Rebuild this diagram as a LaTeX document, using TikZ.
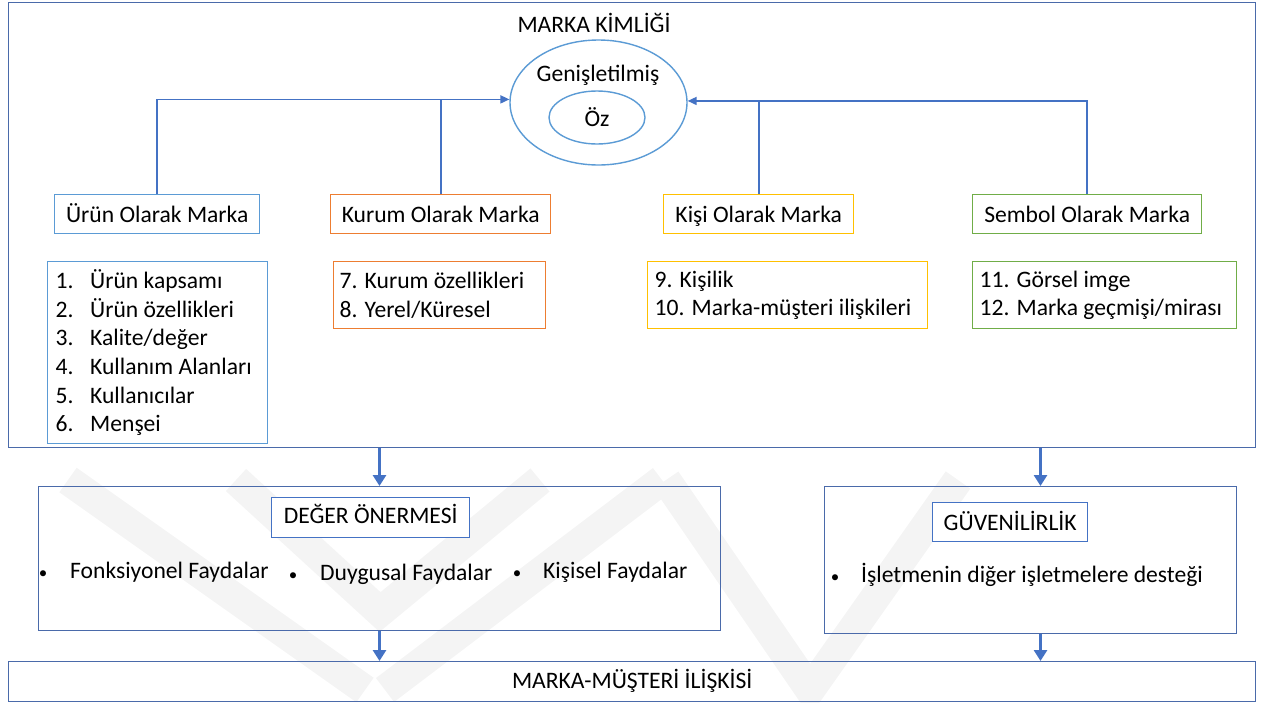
\documentclass[tikz,border=0pt]{standalone}
\usepackage{fontspec}
\setmainfont{Carlito}
\usetikzlibrary{shapes.geometric,arrows.meta}

\definecolor{framecol}{HTML}{4A6AAA}
\definecolor{linkcol}{HTML}{4472C4}
\definecolor{lightblue}{HTML}{5B9BD5}
\definecolor{orangecol}{HTML}{ED7D31}
\definecolor{goldcol}{HTML}{FFC000}
\definecolor{greencol}{HTML}{70AD47}
\definecolor{markcol}{HTML}{F4F4F4}
\newcommand\diagfont{\fontsize{23.6}{28.6}\selectfont}
\newcommand\itemno[1]{\makebox[34.5pt][l]{#1}}

\begin{document}
\begin{tikzpicture}[x=1pt,y=-1pt,
  txt/.style={font=\diagfont, inner sep=0pt},
  dot/.style={font=\fontsize{17}{20}\selectfont, inner sep=0pt, anchor=base},
  panel/.style={draw=#1, line width=1.4pt, anchor=north west, inner sep=0pt, font=\diagfont},
  header/.style={panel=#1, minimum height=39pt, text height=18pt, text depth=2pt},
  listbox/.style={panel=#1, inner xsep=8pt, align=flush left},
  link/.style={draw=linkcol, line width=1.6pt},
  linkarrow/.style={link, -{Triangle[length=9pt,width=8pt]}},
  flow/.style={draw=linkcol, line width=3.6pt, -{Triangle[length=11pt,width=13pt]}},
  band/.style={draw=markcol, line width=30pt, line join=miter}
]
\useasboundingbox (0,0) rectangle (1266,702);

% faint background watermark stripes
\draw[band] (68,480) -- (365,690);
\draw[band] (236,480) -- (380,612) -- (540,480);
\draw[band] (385,690) -- (662,480);
\draw[band] (666,480) -- (810,690) -- (958,480);

% brand identity frame
\node[panel=framecol, fill=white, minimum width=1247pt, minimum height=445pt] (identity) at (8,2) {};
\node[txt, anchor=base] (idtitle) at (594,32) {MARKA KİMLİĞİ};

% extended and core identity
\node[ellipse, draw=lightblue, line width=1.4pt, minimum width=177pt, minimum height=125pt, inner sep=0pt] (ext) at (598.5,102.5) {};
\node[txt, anchor=base] (extlabel) at (598,81) {Genişletilmiş};
\node[ellipse, draw=lightblue, line width=1.4pt, minimum width=96pt, minimum height=53pt, inner sep=0pt, font=\diagfont] (core) at (597,117.5) {Öz};

% four perspectives
\node[header=lightblue, minimum width=205pt] (urun) at (54,194) {Ürün Olarak Marka};
\node[header=orangecol, minimum width=220pt] (kurum) at (330,194) {Kurum Olarak Marka};
\node[header=goldcol, minimum width=190pt] (kisi) at (663,194) {Kişi Olarak Marka};
\node[header=greencol, minimum width=229pt] (sembol) at (972,194) {Sembol Olarak Marka};

% perspective details
\node[listbox=lightblue, text width=204pt, minimum width=220pt, minimum height=182pt] (urunlist) at (47,261)
  {\itemno{1.}Ürün kapsamı\\
   \itemno{2.}Ürün özellikleri\\
   \itemno{3.}Kalite/değer\\
   \itemno{4.}Kullanım Alanları\\
   \itemno{5.}Kullanıcılar\\
   \itemno{6.}Menşei};
\node[listbox=orangecol, inner xsep=6pt, text width=200pt, minimum width=212pt, minimum height=67pt] (kurumlist) at (333,261)
  {\mbox{7. Kurum özellikleri}\\\mbox{8. Yerel/Küresel}};
\node[listbox=goldcol, inner xsep=7pt, text width=266pt, minimum width=280pt, minimum height=67pt] (kisilist) at (647,261)
  {\mbox{9. Kişilik}\\\mbox{10. Marka-müşteri ilişkileri}};
\node[listbox=greencol, inner xsep=7pt, text width=250pt, minimum width=264pt, minimum height=67pt] (sembollist) at (972,261)
  {\mbox{11. Görsel imge}\\\mbox{12. Marka geçmişi/mirası}};

% links into the identity core
\draw[linkarrow] (urun.north) |- (ext.178.4);
\draw[link] (kurum.north) -- (kurum.north |- ext.178.4);
\draw[linkarrow] (sembol.north) |- (ext.1.6);
\draw[link] (kisi.north) -- (kisi.north |- ext.1.6);

% value proposition
\node[panel=framecol, minimum width=682pt, minimum height=144pt] (deger) at (38,486) {};
\node[panel=linkcol, fill=white, minimum width=198pt, minimum height=40pt, text height=16pt, text depth=4pt] (degertitle) at (271,497) {DEĞER ÖNERMESİ};
\node[dot] (b1) at (43,578) {•};
\node[txt, anchor=base west] (f1) at (70,578) {Fonksiyonel Faydalar};
\node[dot] (b2) at (293,580) {•};
\node[txt, anchor=base west] (f2) at (320,580) {Duygusal Faydalar};
\node[dot] (b3) at (517,578) {•};
\node[txt, anchor=base west] (f3) at (543,578) {Kişisel Faydalar};

% credibility
\node[panel=framecol, minimum width=412pt, minimum height=147pt] (guven) at (824,486) {};
\node[panel=linkcol, fill=white, minimum width=155pt, minimum height=39pt, text height=18pt, text depth=1pt] (guventitle) at (932,502) {GÜVENİLİRLİK};
\node[dot] (b4) at (835,582) {•};
\node[txt, anchor=base west] (g1) at (861,582) {İşletmenin diğer işletmelere desteği};

% brand-customer relationship
\node[panel=framecol, minimum width=1247pt, minimum height=40pt, text height=16pt, text depth=2pt] (relation) at (8,661) {MARKA-MÜŞTERİ İLİŞKİSİ};

% flow between the layers
\coordinate (lx) at (379.5,0);
\coordinate (rx) at (1040.5,0);
\draw[flow] (lx |- identity.south) -- (lx |- deger.north);
\draw[flow] (rx |- identity.south) -- (rx |- guven.north);
\draw[flow] (lx |- deger.south) -- (lx |- relation.north);
\draw[flow] (rx |- guven.south) -- (rx |- relation.north);
\end{tikzpicture}
\end{document}
